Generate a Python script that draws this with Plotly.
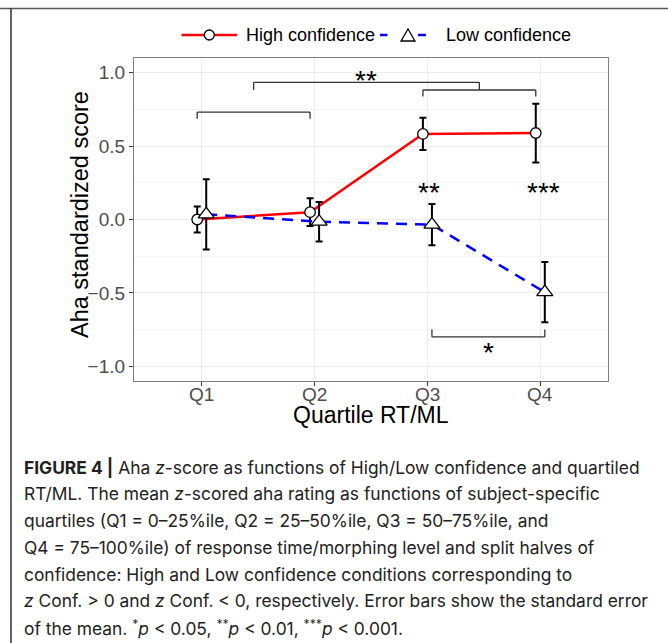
import plotly.graph_objects as go

# ---- data ----
quartiles = ["Q1", "Q2", "Q3", "Q4"]
high_mean = [0.0, 0.05, 0.583, 0.589]
high_se = [0.088, 0.094, 0.11, 0.20]
low_mean = [0.035, -0.015, -0.035, -0.495]
low_se = [0.24, 0.135, 0.14, 0.205]
series_names = ["High confidence", "Low confidence"]
y_ticks = [1.0, 0.5, 0.0, -0.5, -1.0]
y_ticktext = ["1.0", "0.5", "0.0", "−0.5", "−1.0"]

# layout constants (pixels of 668x643 canvas)
W_FIG, H_FIG = 668, 643
PL, PR, PT, PB = 134, 608, 58, 381
PW, PH = PR - PL, PB - PT

RED = "#FF0000"
BLUE = "#0000FF"


def px(x):
    return (x - PL) / PW


def py(y):
    return (PB - y) / PH


dodge = 0.04
pos = list(range(1, len(quartiles) + 1))
x_high = [p - dodge for p in pos]
x_low = [p + dodge for p in pos]

fig = go.Figure()

fig.add_trace(go.Scatter(
    x=x_high, y=high_mean, name=series_names[0], mode="lines+markers",
    line=dict(color=RED, width=2.5),
    marker=dict(symbol="circle", size=10.5, color="white",
                line=dict(color="black", width=1.3)),
    error_y=dict(type="data", array=high_se, color="black", thickness=2, width=3.5),
))
fig.add_trace(go.Scatter(
    x=x_low, y=low_mean, name=series_names[1], mode="lines+markers",
    line=dict(color=BLUE, width=2.5, dash="11px,8px"),
    marker=dict(symbol="triangle-up", size=14, color="white",
                line=dict(color="black", width=1.3)),
    error_y=dict(type="data", array=low_se, color="black", thickness=2, width=3.5),
))

shapes = []
# zero reference line
shapes.append(dict(type="line", xref="paper", yref="y", x0=0, x1=1, y0=0, y1=0,
                   line=dict(color="#444444", width=1.2, dash="4px,3px"), layer="below"))

brk = dict(color="#333333", width=1.3)


def bracket(xa, xb, ylev, tick):
    return [
        dict(type="line", xref="x", yref="y", x0=xa, x1=xb, y0=ylev, y1=ylev, line=brk),
        dict(type="line", xref="x", yref="y", x0=xa, x1=xa, y0=ylev, y1=ylev + tick, line=brk),
        dict(type="line", xref="x", yref="y", x0=xb, x1=xb, y0=ylev, y1=ylev + tick, line=brk),
    ]


mid_a = (x_high[0] + x_high[1]) / 2
mid_b = (x_high[2] + x_high[3]) / 2
shapes += bracket(x_high[0], x_high[1], 0.732, -0.045)
shapes += bracket(x_high[2], x_high[3], 0.882, -0.045)
shapes += bracket(mid_a, mid_b, 0.934, -0.052)
shapes += bracket(x_low[2], x_low[3], -0.80, 0.05)

# frame lines of the figure page
shapes.append(dict(type="line", xref="paper", yref="paper",
                   x0=px(0), x1=px(668), y0=py(8.5), y1=py(8.5),
                   line=dict(color="#555555", width=1.6)))
shapes.append(dict(type="line", xref="paper", yref="paper",
                   x0=px(11), x1=px(11), y0=py(8.5), y1=py(643),
                   line=dict(color="#222222", width=1.4)))

# ---- manual legend (top) ----
LY = 35
shapes.append(dict(type="line", xref="paper", yref="paper", x0=px(181.5), x1=px(237),
                   y0=py(LY), y1=py(LY), line=dict(color=RED, width=2.5)))
shapes.append(dict(type="circle", xref="paper", yref="paper",
                   x0=px(209.3 - 5), x1=px(209.3 + 5), y0=py(LY - 5), y1=py(LY + 5),
                   fillcolor="white", line=dict(color="black", width=1.3)))
for a, b in [(380, 387.5), (418, 426)]:
    shapes.append(dict(type="line", xref="paper", yref="paper", x0=px(a), x1=px(b),
                       y0=py(LY), y1=py(LY), line=dict(color=BLUE, width=2.5)))
tx, th, tw = 408, 12, 14
tri = "M {} {} L {} {} L {} {} Z".format(
    px(tx - tw / 2), py(LY + th / 2), px(tx + tw / 2), py(LY + th / 2), px(tx), py(LY - th / 2))
shapes.append(dict(type="path", xref="paper", yref="paper", path=tri,
                   fillcolor="white", line=dict(color="black", width=1.3)))

annotations = []
leg_font = dict(family="Liberation Sans", size=18, color="black")
annotations.append(dict(x=px(244), y=py(LY), text=series_names[0], showarrow=False,
                        xref="paper", yref="paper", xanchor="left", yanchor="middle",
                        font=leg_font))
annotations.append(dict(x=px(444), y=py(LY), text=series_names[1], showarrow=False,
                        xref="paper", yref="paper", xanchor="left", yanchor="middle",
                        font=leg_font))

star_font = dict(family="Liberation Sans", size=28, color="black")
for xx, yy, t in [((mid_a + mid_b) / 2, 0.997, "**"), (pos[2] + 0.01, 0.232, "**"),
                  (pos[3] + 0.03, 0.232, "***"), ((x_low[2] + x_low[3]) / 2, -0.86, "*")]:
    annotations.append(dict(x=xx, y=yy, text=t, showarrow=False, xref="x", yref="y",
                            xanchor="center", yanchor="middle", yshift=-7, font=star_font))

# x tick labels
tick_font = dict(family="Liberation Sans", size=19, color="#4D4D4D")
for p, q in zip(pos, quartiles):
    annotations.append(dict(x=p, y=py(394), text=q, showarrow=False, xref="x", yref="paper",
                            xanchor="center", yanchor="middle", font=tick_font))

# axis titles
annotations.append(dict(x=px(80), y=py(215), text="Aha standardized score", textangle=-90,
                        showarrow=False, xref="paper", yref="paper",
                        xanchor="center", yanchor="middle",
                        font=dict(family="Liberation Sans", size=23.5, color="black")))
annotations.append(dict(x=px(370.5), y=py(415), text="Quartile RT/ML",
                        showarrow=False, xref="paper", yref="paper",
                        xanchor="center", yanchor="middle",
                        font=dict(family="Liberation Sans", size=23, color="black")))

caption = [
    "<b>FIGURE 4 |</b> Aha <i>z</i>-score as functions of High/Low confidence and quartiled",
    "RT/ML. The mean <i>z</i>-scored aha rating as functions of subject-specific",
    "quartiles (Q1 = 0–25%ile, Q2 = 25–50%ile, Q3 = 50–75%ile, and",
    "Q4 = 75–100%ile) of response time/morphing level and split halves of",
    "confidence: High and Low confidence conditions corresponding to",
    "<i>z</i> Conf. &gt; 0 and <i>z</i> Conf. &lt; 0, respectively. Error bars show the standard error",
    "of the mean. <sup>*</sup><i>p</i> &lt; 0.05, <sup>**</sup><i>p</i> &lt; 0.01, <sup>***</sup><i>p</i> &lt; 0.001.",
]
cap_y = [467, 493.5, 520, 547, 574, 600.5, 627]
for t, yy in zip(caption, cap_y):
    annotations.append(dict(x=px(22), y=py(yy), text=t, showarrow=False, xref="paper",
                            yref="paper", xanchor="left", yanchor="middle",
                            font=dict(family="Inter", size=17.4, color="#222222")))

fig.update_layout(
    width=W_FIG, height=H_FIG,
    margin=dict(l=PL, r=W_FIG - PR, t=PT, b=H_FIG - PB, pad=0),
    paper_bgcolor="white", plot_bgcolor="white",
    showlegend=False,
    shapes=shapes,
    annotations=annotations,
    xaxis=dict(range=[0.4, 4.6], tickvals=pos, ticktext=quartiles, showticklabels=False,
               showgrid=True, gridcolor="#EBEBEB", gridwidth=1, zeroline=False,
               ticks="outside", ticklen=4, tickcolor="#333333",
               showline=True, linecolor="#7F7F7F", linewidth=1.2, mirror=True),
    yaxis=dict(range=[-1.1, 1.1], tickvals=y_ticks, ticktext=y_ticktext,
               showgrid=True, gridcolor="#EBEBEB", gridwidth=1, zeroline=False,
               minor=dict(tickvals=[-0.75, -0.25, 0.25, 0.75], showgrid=True,
                          gridcolor="#F4F4F4", gridwidth=1, ticks=""),
               ticks="outside", ticklen=4, tickcolor="#333333",
               tickfont=tick_font,
               showline=True, linecolor="#7F7F7F", linewidth=1.2, mirror=True),
)

fig.write_html("out.html", config={"displayModeBar": False},
               post_script="document.body.style.margin='0px';")
